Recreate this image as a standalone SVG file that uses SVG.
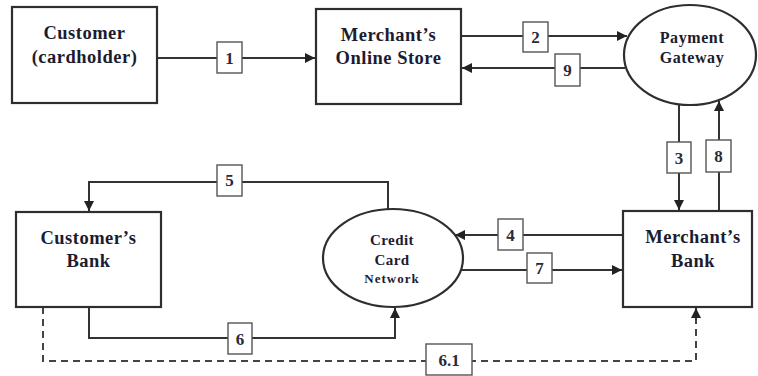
<svg xmlns="http://www.w3.org/2000/svg" width="758" height="376" viewBox="0 0 758 376">
<style>
.node{fill:#fff;stroke:#2e2e2e;stroke-width:2.2}
.t{font-family:"Liberation Serif","Times New Roman",serif;font-weight:bold;fill:#1c1c30;text-anchor:middle}
.big{font-size:18.5px;letter-spacing:0.5px}
.mid{font-size:16px;letter-spacing:0.6px}
.sm{font-size:15px;letter-spacing:0.4px}
.xs{font-size:13px;letter-spacing:1px}
.c{fill:none;stroke:#333;stroke-width:2}
.d{fill:none;stroke:#444;stroke-width:2;stroke-dasharray:7 5}
.lb{fill:#fff;stroke:#555;stroke-width:1.4}
.n{font-family:"Liberation Serif","Times New Roman",serif;font-weight:bold;font-size:17px;fill:#2a2a3a;text-anchor:middle}
</style>
<defs>
<marker id="ah" viewBox="0 0 10 10" refX="10" refY="5" markerWidth="11" markerHeight="10" markerUnits="userSpaceOnUse" orient="auto">
<path d="M0,0 L10,5 L0,10 z" fill="#222"/>
</marker>
</defs>
<rect width="758" height="376" fill="#fff"/>

<g id="connectors">
<path class="c" d="M157,58 H315" marker-end="url(#ah)"/>
<path class="c" d="M461,36 H627" marker-end="url(#ah)"/>
<path class="c" d="M625,68 H462" marker-end="url(#ah)"/>
<path class="c" d="M679,104 V210" marker-end="url(#ah)"/>
<path class="c" d="M719,211 V101" marker-end="url(#ah)"/>
<path class="c" d="M623,235 H455" marker-end="url(#ah)"/>
<path class="c" d="M461,270 H622" marker-end="url(#ah)"/>
<path class="c" d="M388,209 V182 H89 V211" marker-end="url(#ah)"/>
<path class="c" d="M89,307 V338 H395 V308" marker-end="url(#ah)"/>
<path class="d" d="M43,307 V361 H696 V318"/>
<path class="c" d="M696,320 V308" marker-end="url(#ah)" style="stroke-width:2"/>
<g id="labels">
<rect class="lb" x="217" y="42" width="25" height="31"/><text class="n" x="229.5" y="64">1</text>
<rect class="lb" x="523" y="22" width="25" height="30"/><text class="n" x="535.5" y="43">2</text>
<rect class="lb" x="555" y="54" width="25" height="32"/><text class="n" x="567.5" y="76">9</text>
<rect class="lb" x="667" y="142" width="24" height="31"/><text class="n" x="679" y="164">3</text>
<rect class="lb" x="706" y="140" width="25" height="32"/><text class="n" x="718.5" y="162">8</text>
<rect class="lb" x="498" y="219" width="25" height="31"/><text class="n" x="510.5" y="241">4</text>
<rect class="lb" x="527" y="253" width="25" height="30"/><text class="n" x="539.5" y="274">7</text>
<rect class="lb" x="217" y="165" width="25" height="31"/><text class="n" x="229.5" y="186">5</text>
<rect class="lb" x="228" y="323" width="24" height="31"/><text class="n" x="240" y="345">6</text>
<rect class="lb" x="426" y="344" width="46" height="31"/><text class="n" x="449" y="366">6.1</text>
</g>
</g>

<g id="customer">
<rect class="node" x="12" y="7" width="145" height="96"/>
<text class="t big" x="84.5" y="39">Customer</text>
<text class="t big" x="84.5" y="63">(cardholder)</text>
</g>

<g id="merchant-store">
<rect class="node" x="316" y="9" width="145" height="95"/>
<text class="t big" x="388.5" y="41">Merchant’s</text>
<text class="t big" x="388.5" y="64">Online Store</text>
</g>

<g id="payment-gateway">
<ellipse class="node" cx="690" cy="55" rx="66" ry="50"/>
<text class="t mid" x="692" y="43">Payment</text>
<text class="t mid" x="692" y="63">Gateway</text>
</g>

<g id="customers-bank">
<rect class="node" x="16" y="212" width="145" height="95"/>
<text class="t big" x="88.5" y="244">Customer’s</text>
<text class="t big" x="88.5" y="267">Bank</text>
</g>

<g id="credit-card-network">
<ellipse class="node" cx="393" cy="258" rx="70" ry="49"/>
<text class="t sm" x="392" y="245">Credit</text>
<text class="t sm" x="392" y="265">Card</text>
<text class="t xs" x="392" y="283">Network</text>
</g>

<g id="merchants-bank">
<rect class="node" x="623" y="211" width="129" height="96"/>
<text class="t big" x="693" y="243">Merchant’s</text>
<text class="t big" x="693" y="267">Bank</text>
</g>
</svg>
